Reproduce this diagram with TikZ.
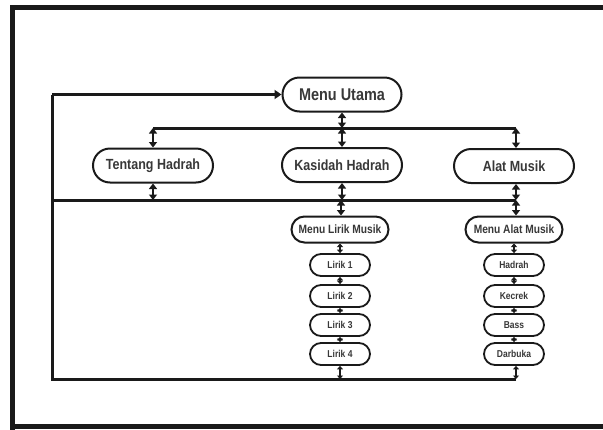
\documentclass[tikz,border=0pt]{standalone}
\usepackage{fontspec}
\setmainfont{Liberation Sans}[FakeStretch=0.85]
\usetikzlibrary{arrows.meta}
\definecolor{ink}{HTML}{1A1A1A}
\definecolor{txt}{HTML}{383838}
\tikzset{
  pill/.style={draw=ink, line width=2pt, rounded corners=#1, inner sep=0pt, text=txt, font=\bfseries, fill=white},
  topbox/.style={pill=17pt, minimum width=119pt, minimum height=34pt, font=\bfseries\fontsize{17}{19}\selectfont},
  midbox/.style={pill=17pt, minimum width=120pt, minimum height=34pt, font=\bfseries\fontsize{14.7}{16}\selectfont},
  subbox/.style={pill=13pt, minimum width=97pt, minimum height=26pt, font=\bfseries\fontsize{12}{14}\selectfont},
  leafbox/.style={pill=11pt, line width=1.8pt, minimum width=60pt, minimum height=22pt, font=\bfseries\fontsize{10}{12}\selectfont},
  bus/.style={draw=ink, line width=3pt},
  link/.style={draw=ink, line width=2pt, {Triangle[width=8pt,length=5.5pt]}-{Triangle[width=8pt,length=5.5pt]}},
  slink/.style={draw=ink, line width=1.5pt, {Triangle[width=6pt,length=3.5pt]}-{Triangle[width=6pt,length=3.5pt]}},
}
\begin{document}
\begin{tikzpicture}[x=1pt,y=-1pt]
\useasboundingbox (0,0) rectangle (603,429);
% outer frame
\draw[ink, line width=5pt] (12.5,440) -- (12.5,7.5) -- (620,7.5);
\draw[ink, line width=5pt] (10,426.5) -- (620,426.5);

% nodes
\node[topbox] (MU) at (342,94.5) {Menu Utama};
\node[midbox] (TH) at (153,165.5) {Tentang Hadrah};
\node[midbox] (KH) at (342,165) {Kasidah Hadrah};
\node[midbox] (AM) at (514,166) {Alat Musik};
\node[subbox] (ML) at (340,229.5) {Menu Lirik Musik};
\node[subbox] (MA) at (514,229.5) {Menu Alat Musik};
\node[leafbox] (L1) at (340,265) {Lirik 1};
\node[leafbox] (L2) at (340,296) {Lirik 2};
\node[leafbox] (L3) at (340,325) {Lirik 3};
\node[leafbox] (L4) at (340,354) {Lirik 4};
\node[leafbox] (A1) at (514,265) {Hadrah};
\node[leafbox] (A2) at (514,296) {Kecrek};
\node[leafbox] (A3) at (514,325) {Bass};
\node[leafbox] (A4) at (514,354) {Darbuka};

% bus coordinates
\coordinate (b1L) at (153,128);
\coordinate (b1R) at (516,128);
\coordinate (b2L) at (52,200);
\coordinate (b2R) at (516,200);
\coordinate (b3L) at (52,379);
\coordinate (b3R) at (516,379);
\coordinate (loopTop) at (52,94.5);

% bus lines
\draw[bus] (b1L) -- (b1R);
\draw[bus] (b2L) -- (b2R);
\draw[bus] (b3R) -- (b3L) -- (loopTop);
\draw[bus, -{Triangle[width=9pt,length=7pt]}] (loopTop) -- (MU.west);

% links level 1
\draw[link] (MU.south) -- (MU.south |- b1L);
\draw[link] (TH.north |- b1L) -- (TH.north);
\draw[link] (KH.north |- b1L) -- (KH.north);
\draw[link] ([xshift=2pt]AM.north |- b1L) -- ([xshift=2pt]AM.north);
% links level 2
\draw[link] (TH.south) -- (TH.south |- b2L);
\draw[link] (KH.south) -- (KH.south |- b2L);
\draw[link] ([xshift=2pt]AM.south) -- ([xshift=2pt]AM.south |- b2L);
\draw[link] ([xshift=1pt]ML.north |- b2L) -- ([xshift=1pt]ML.north);
\draw[link] ([xshift=2pt]MA.north |- b2L) -- ([xshift=2pt]MA.north);
% lyric column
\draw[slink] (ML.south) -- (L1.north);
\draw[slink] (L1.south) -- (L2.north);
\draw[slink] (L2.south) -- (L3.north);
\draw[slink] (L3.south) -- (L4.north);
\draw[slink] (L4.south) -- (L4.south |- b3L);
% instrument column
\draw[slink] (MA.south) -- (A1.north);
\draw[slink] (A1.south) -- (A2.north);
\draw[slink] (A2.south) -- (A3.north);
\draw[slink] (A3.south) -- (A4.north);
\draw[slink] ([xshift=2pt]A4.south) -- ([xshift=2pt]A4.south |- b3L);
\end{tikzpicture}
\end{document}
